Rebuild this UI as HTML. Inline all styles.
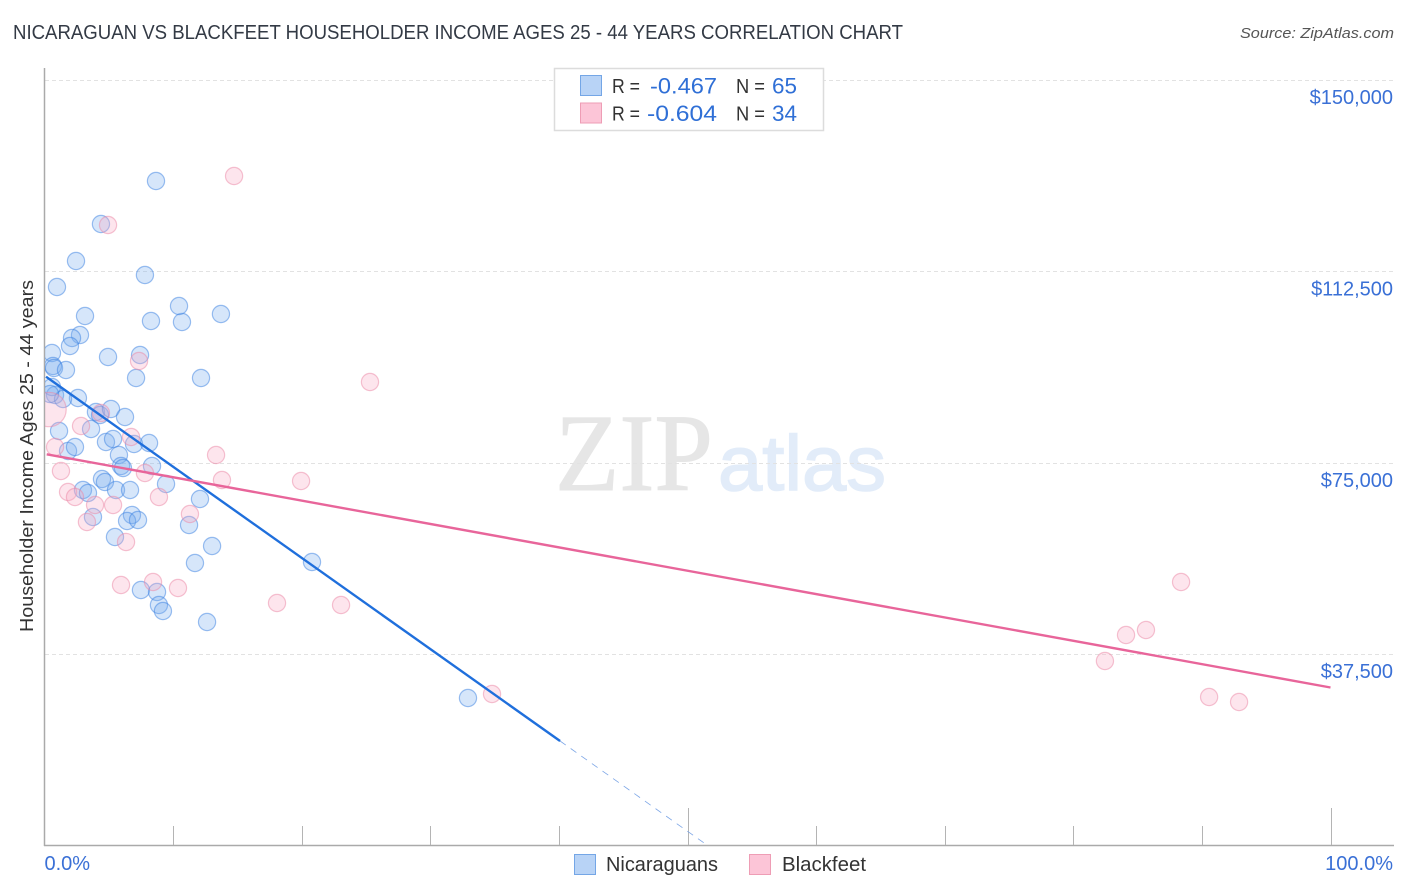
<!DOCTYPE html>
<html lang="en">
<head>
<meta charset="utf-8">
<title>Nicaraguan vs Blackfeet Householder Income Correlation Chart</title>
<style>
html,body{margin:0;padding:0;background:#fff;width:1406px;height:892px;overflow:hidden}
svg{display:block;font-family:"Liberation Sans",sans-serif}
</style>
</head>
<body>
<svg id="chart" xmlns="http://www.w3.org/2000/svg" width="1406" height="892" viewBox="0 0 1406 892">
  <defs><clipPath id="plot-clip"><rect x="45" y="60" width="1349" height="785"/></clipPath></defs>
  <rect x="0" y="0" width="1406" height="892" fill="#fff"/>
  <text x="13" y="39" font-size="20" fill="#333a45" textLength="890" lengthAdjust="spacingAndGlyphs">NICARAGUAN VS BLACKFEET HOUSEHOLDER INCOME AGES 25 - 44 YEARS CORRELATION CHART</text>
  <text x="1394" y="38" font-size="15" font-style="italic" fill="#555" text-anchor="end" textLength="154" lengthAdjust="spacingAndGlyphs">Source: ZipAtlas.com</text>
  <g>
    <text x="555" y="490" font-family="'Liberation Serif',serif" font-size="110" fill="#e6e6e6" stroke="#e6e6e6" stroke-width="1" textLength="158" lengthAdjust="spacingAndGlyphs">ZIP</text>
    <text x="718" y="490" font-size="78" fill="#e2ecf9" stroke="#e2ecf9" stroke-width="1.5" textLength="168" lengthAdjust="spacingAndGlyphs">atlas</text>
  </g>
  <g id="grid"></g>
  <g id="axes"></g>
  <text transform="translate(33,632) rotate(-90)" font-size="18.5" fill="#333" textLength="352" lengthAdjust="spacingAndGlyphs">Householder Income Ages 25 - 44 years</text>
  <g id="points" clip-path="url(#plot-clip)"></g>
  <g id="trends"></g>
  <g id="ylabels"></g>
  <g id="xlabels"></g>

  <g>
    <rect x="554.5" y="68.5" width="269" height="62" fill="#fff" stroke="#dcdcdc" stroke-width="1.5"/>
    <rect x="580.5" y="75.5" width="21" height="20" fill="#b8d3f6" stroke="#74a6e6"/>
    <rect x="580.5" y="103" width="21" height="20" fill="#fcc5d7" stroke="#ee9db5"/>
    <text x="612" y="93" font-size="20" fill="#333" textLength="28" lengthAdjust="spacingAndGlyphs">R =</text>
    <text x="650" y="93.5" font-size="22" fill="#2f6fd6" textLength="67" lengthAdjust="spacingAndGlyphs">-0.467</text>
    <text x="736" y="93" font-size="20" fill="#333" textLength="29" lengthAdjust="spacingAndGlyphs">N =</text>
    <text x="772" y="93.5" font-size="22" fill="#2f6fd6" textLength="25" lengthAdjust="spacingAndGlyphs">65</text>
    <text x="612" y="120.5" font-size="20" fill="#333" textLength="28" lengthAdjust="spacingAndGlyphs">R =</text>
    <text x="647" y="121" font-size="22" fill="#2f6fd6" textLength="70" lengthAdjust="spacingAndGlyphs">-0.604</text>
    <text x="736" y="120.5" font-size="20" fill="#333" textLength="29" lengthAdjust="spacingAndGlyphs">N =</text>
    <text x="772" y="121" font-size="22" fill="#2f6fd6" textLength="25" lengthAdjust="spacingAndGlyphs">34</text>
  </g>

  <g>
    <rect x="574.5" y="854.5" width="21" height="20" fill="#b8d3f6" stroke="#74a6e6"/>
    <text x="606" y="871" font-size="20" fill="#333" textLength="112" lengthAdjust="spacingAndGlyphs">Nicaraguans</text>
    <rect x="749.5" y="854.5" width="21" height="20" fill="#fcc5d7" stroke="#ee9db5"/>
    <text x="782" y="871" font-size="20" fill="#333" textLength="84" lengthAdjust="spacingAndGlyphs">Blackfeet</text>
  </g>
</svg>
<script>
const yTicks = [150000, 112500, 75000, 37500];
const yTickLabels = ['$150,000', '$112,500', '$75,000', '$37,500'];
const xTicks = [0, 10, 20, 30, 40, 50, 60, 70, 80, 90, 100];
const xMajorTicks = [50, 100];
const xEndTicks = [0, 100];
const xEndLabels = ['0.0%', '100.0%'];

const nicaraguanX = [8.67,4.39,2.45,0.97,7.81,3.15,2.76,2.14,1.98,0.58,4.94,7.43,8.28,10.69,10.46,13.72,0.66,0.74,1.67,7.12,12.17,2.60,0.82,1.44,0.58,0.43,1.13,3.62,4.00,4.32,5.17,6.26,4.78,5.33,6.96,8.13,1.83,2.37,2.99,3.38,4.47,4.70,5.56,6.65,5.79,5.95,6.10,8.36,9.45,12.09,3.77,6.80,6.42,7.27,5.48,11.24,13.03,11.70,12.64,7.50,8.75,8.90,9.21,20.80,32.93];
const nicaraguanY = [130209,121783,114533,109438,111790,103756,100032,99445,97877,96505,95722,96113,102776,102580,105715,104147,93958,93566,93174,91607,91607,87688,88275,87492,89843,88471,81221,81613,84944,84356,85532,83965,79066,79654,78674,78870,77302,78086,69660,69072,71816,71228,69660,69660,76519,74363,73971,74363,70836,67897,64370,64761,63586,63782,60451,62802,58687,55356,43795,50065,49673,47126,45950,55552,28903];

const blackfeetX = [0.35,0.82,1.28,1.83,2.37,2.84,3.30,3.93,4.39,4.94,5.33,6.34,5.95,6.73,7.35,7.81,8.44,8.90,10.38,11.31,13.34,13.80,14.74,18.08,19.95,23.06,25.31,34.80,82.46,84.10,85.65,88.38,90.56,92.89];
const blackfeetY = [85434,78086,73383,69268,68289,82201,63390,66721,84748,121587,66721,59471,51045,80045,94938,72991,51633,68289,50457,64957,76519,71620,131188,47518,71424,47126,90823,29686,36153,41247,42227,51633,29099,28119];
const blackfeetWeight = [2,1,1,1,1,1,1,1,1,1,1,1,1,1,1,1,1,1,1,1,1,1,1,1,1,1,1,1,1,1,1,1,1,1];

const nicaraguanTrendX = [0.12, 40.09];
const nicaraguanTrendY = [91861, 20477];
const nicaraguanDashX = [40.09, 51.29];
const nicaraguanDashY = [20477, 490];
const blackfeetTrendX = [0.17, 100];
const blackfeetTrendY = [76656, 30960];

const NS = 'http://www.w3.org/2000/svg';
function xScale(v) { return 44.5 + v * 12.86; }
function yScale(v) { return 845.5 - v * 765.5 / 150000; }
function make(tag, attrs, parent) {
  const el = document.createElementNS(NS, tag);
  for (const k in attrs) el.setAttribute(k, attrs[k]);
  parent.appendChild(el);
  return el;
}
const grid = document.getElementById('grid');
const axes = document.getElementById('axes');
const pts = document.getElementById('points');
const trends = document.getElementById('trends');
const yl = document.getElementById('ylabels');
const xl = document.getElementById('xlabels');

yTicks.forEach(function (t, i) {
  const line = make('line', {x1: 45, x2: 1394, y1: Math.round(yScale(t)) + 0.5, y2: Math.round(yScale(t)) + 0.5, stroke: '#e2e2e2', 'stroke-width': 1, 'stroke-dasharray': '4 3'}, grid);
  
  
  const label = make('text', {x: 1393, y: yScale(t) + 24, 'font-size': 20, fill: '#3a70d6', 'text-anchor': 'end'}, yl);
  label.textContent = yTickLabels[i];
  
  
});

const yAxisLine = make('line', {x1: 44.5, x2: 44.5, y1: 68, y2: 846, stroke: '#aaa', 'stroke-width': 1.5}, axes);


const xAxisLine = make('line', {x1: 44, x2: 1394, y1: 845.5, y2: 845.5, stroke: '#aaa', 'stroke-width': 1.5}, axes);


xTicks.forEach(function (t) {
  if (t === 0) return;
  const major = xMajorTicks.indexOf(t) >= 0;
  const tick = make('line', {x1: Math.round(xScale(t)) + 0.5, x2: Math.round(xScale(t)) + 0.5, y1: major ? 808 : 826, y2: 845, stroke: '#b4b4b4', 'stroke-width': 1}, axes);
  
  
});
xEndTicks.forEach(function (t, i) {
  const label = make('text', {x: i === 0 ? xScale(t) : 1393, y: 870, 'font-size': 20, fill: '#3a70d6', 'text-anchor': i === 0 ? 'start' : 'end'}, xl);
  label.textContent = xEndLabels[i];
  
  
});

nicaraguanX.forEach(function (v, i) {
  const c = make('circle', {cx: xScale(v), cy: yScale(nicaraguanY[i]), r: 8.6, fill: 'rgba(120,172,238,0.3)', stroke: 'rgba(60,130,225,0.5)', 'stroke-width': 1.2}, pts);
  
  
});
blackfeetX.forEach(function (v, i) {
  const c = make('circle', {cx: xScale(v), cy: yScale(blackfeetY[i]), r: 8.6 * blackfeetWeight[i], fill: 'rgba(248,170,195,0.3)', stroke: 'rgba(235,135,165,0.5)', 'stroke-width': 1.2}, pts);
  
  
});

const dash = make('line', {x1: xScale(nicaraguanDashX[0]), y1: yScale(nicaraguanDashY[0]), x2: xScale(nicaraguanDashX[1]), y2: yScale(nicaraguanDashY[1]), stroke: '#7ba5e6', 'stroke-width': 0.8, 'stroke-dasharray': '7 6'}, trends);


const blueLine = make('line', {x1: xScale(nicaraguanTrendX[0]), y1: yScale(nicaraguanTrendY[0]), x2: xScale(nicaraguanTrendX[1]), y2: yScale(nicaraguanTrendY[1]), stroke: '#1f6fdc', 'stroke-width': 2.4}, trends);


const pinkLine = make('line', {x1: xScale(blackfeetTrendX[0]), y1: yScale(blackfeetTrendY[0]), x2: xScale(blackfeetTrendX[1]), y2: yScale(blackfeetTrendY[1]), stroke: '#e8659a', 'stroke-width': 2.4}, trends);


</script>
</body>
</html>
